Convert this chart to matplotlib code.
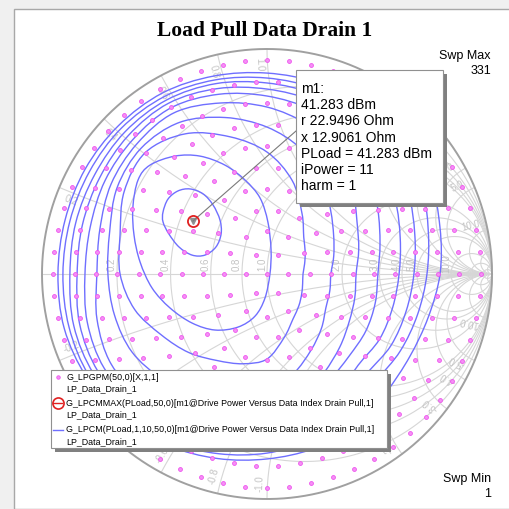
import numpy as np
import matplotlib.pyplot as plt
from matplotlib.patches import Rectangle, PathPatch
from matplotlib.path import Path

plt.rcParams['font.family'] = ['Liberation Sans', 'DejaVu Sans']

# figure / chart geometry in pixels
W, H = 510, 509
CX, CY, RAD = 267, 274, 225

title = 'Load Pull Data Drain 1'

# smith chart grid values
grid_vals = [0.2, 0.4, 0.6, 0.8, 1.0, 2.0, 3.0, 4.0, 5.0, 10.0, 20.0, 50.0]
label_vals = [0.2, 0.4, 0.6, 0.8, 1.0, 2.0, 3.0, 4.0, 5.0, 10.0]

# load pull grid: rings of |Gamma|, 6k points on ring k (331 points)
ring_mag = [0.0, 0.095, 0.19, 0.285, 0.38, 0.475, 0.57, 0.665, 0.76, 0.855, 0.95]
ring_count = [1, 6, 12, 18, 24, 30, 36, 42, 48, 54, 60]

# marker m1
z0 = 50.0
m1_r, m1_x = 22.9496, 12.9061
m1_lines = ['m1:', '41.283 dBm', 'r 22.9496 Ohm', 'x 12.9061 Ohm',
            'PLoad = 41.283 dBm', 'iPower = 11', 'harm = 1']

# PLoad contours (1 dB step), Gamma plane
c1_re = [-0.462, -0.44, -0.396, -0.342, -0.284, -0.24, -0.209, -0.204, -0.227,
         -0.276, -0.333, -0.391, -0.436, -0.462]
c1_im = [0.276, 0.333, 0.369, 0.378, 0.356, 0.307, 0.24, 0.178, 0.12,
         0.084, 0.084, 0.12, 0.178, 0.231]
c2_re = [-0.596, -0.573, -0.52, -0.409, -0.298, -0.187, -0.098, -0.031, 0.004, 0.018,
         0.013, -0.009, -0.053, -0.129, -0.231, -0.333, -0.431, -0.511, -0.564, -0.591]
c2_im = [0.298, 0.418, 0.484, 0.524, 0.524, 0.484, 0.418, 0.338, 0.231, 0.107,
         0.0, -0.107, -0.187, -0.236, -0.249, -0.218, -0.151, -0.062, 0.053, 0.173]

# outer contours as |Gamma| every 15 deg of angle (0 .. 345)
c_ang = list(range(0, 360, 15))
c3_mag = [.160, .173, .196, .231, .311, .431, .542, .631, .720, .764, .733, .676,
          .653, .609, .542, .493, .444, .413, .378, .293, .231, .200, .178, .164]
c4_mag = [.284, .307, .342, .400, .493, .578, .653, .720, .778, .791, .769, .724,
          .707, .702, .693, .658, .613, .578, .533, .458, .391, .342, .302, .289]
c5_mag = [.396, .422, .462, .538, .631, .689, .742, .787, .827, .818, .800, .769,
          .756, .782, .800, .782, .747, .711, .667, .582, .507, .458, .422, .404]
c6_mag = [.493, .520, .569, .644, .711, .756, .791, .827, .853, .844, .831, .813,
          .809, .827, .836, .818, .782, .747, .711, .622, .551, .516, .507, .498]
c7_mag = [.587, .613, .658, .711, .764, .796, .822, .853, .876, .871, .858, .849,
          .844, .862, .867, .849, .813, .778, .742, .676, .622, .573, .578, .578]
c8_mag = [.653, .680, .724, .764, .804, .827, .849, .876, .893, .893, .884, .880,
          .876, .889, .889, .871, .840, .804, .769, .720, .676, .627, .636, .640]
c9_mag = [.711, .742, .791, .809, .840, .853, .871, .893, .911, .916, .911, .907,
          .907, .911, .911, .893, .862, .827, .796, .764, .733, .680, .684, .693]
c10_mag = [.769, .796, .836, .849, .871, .880, .893, .911, .929, .933, .933, .929,
           .929, .933, .924, .911, .880, .849, .822, .804, .791, .747, .733, .742]
outer_mags = [c3_mag, c4_mag, c5_mag, c6_mag, c7_mag, c8_mag, c9_mag, c10_mag]

legend_rows = [('G_LPGPM(50,0)[X,1,1]', 'LP_Data_Drain_1'),
               ('G_LPCMMAX(PLoad,50,0)[m1@Drive Power Versus Data Index Drain Pull,1]', 'LP_Data_Drain_1'),
               ('G_LPCM(PLoad,1,10,50,0)[m1@Drive Power Versus Data Index Drain Pull,1]', 'LP_Data_Drain_1')]

grid_c = '#d6d6d6'
lab_c = '#c4c4c4'
dot_c = '#ee55ee'
cont_c = '#6f6fff'


def fx(x):
    return x / W


def fy(y):
    return 1 - y / H


def closed_curve(xs, ys):
    # smooth closed path through the traced points (bezier segments)
    p = np.column_stack([xs, ys])
    n = len(p)
    verts = [p[0]]
    codes = [Path.MOVETO]
    for i in range(n):
        p0, p1, p2, p3 = p[i - 1], p[i], p[(i + 1) % n], p[(i + 2) % n]
        verts += [p1 + (p2 - p0) / 6, p2 - (p3 - p1) / 6, p2]
        codes += [Path.CURVE4] * 3
    return Path(verts, codes)


fig = plt.figure(figsize=(W / 100, H / 100), dpi=100)
fig.patch.set_facecolor('#f0f0f0')
fig.add_artist(Rectangle((fx(14), 0), 1, fy(9), transform=fig.transFigure,
                         facecolor='white', edgecolor='#a8a8a8', lw=1, zorder=0))

ax = fig.add_axes([0, 0, 1, 1])
ax.set_xlim(-CX / RAD, (W - CX) / RAD)
ax.set_ylim(-(H - CY) / RAD, CY / RAD)
ax.axis('off')
ax.patch.set_alpha(0)

# grid
t = np.concatenate([-np.logspace(4, -4, 600), np.logspace(-4, 4, 600)])
rr = np.logspace(-4, 4, 800)
for v in grid_vals:
    g = (v + 1j * t - 1) / (v + 1j * t + 1)
    ax.plot(g.real, g.imag, color=grid_c, lw=0.8, zorder=1)
    for s in (1, -1):
        g = (rr + 1j * s * v - 1) / (rr + 1j * s * v + 1)
        ax.plot(g.real, g.imag, color=grid_c, lw=0.8, zorder=1)
ax.plot([-1, 1], [0, 0], color=grid_c, lw=0.8, zorder=1)
th = np.linspace(0, 2 * np.pi, 400)
ax.plot(np.cos(th), np.sin(th), color='#a0a0a0', lw=1.4, zorder=2)

# grid labels
for v in label_vals:
    gr = (v - 1) / (v + 1)
    ax.text(gr - 5 / RAD, 10 / RAD, f'{v:.1f}', rotation=90, ha='center', va='center',
            fontsize=7, color=lab_c, zorder=1)
    for s in (1, -1):
        g = (1j * s * v - 1) / (1j * s * v + 1)
        ang = np.angle(g) + s * 0.035
        p = 0.93 * np.exp(1j * ang)
        rot = np.degrees(ang)
        if s > 0 and rot > 90:
            rot -= 180
        if s < 0:
            rot += 180
        ax.text(p.real, p.imag, f'{s * v:.1f}', rotation=rot, ha='center', va='center',
                fontsize=7, color=lab_c, zorder=1, rotation_mode='anchor')

# contours
curves = [(c1_re, c1_im), (c2_re, c2_im)]
a = np.radians(c_ang)
for m in outer_mags:
    m = np.array(m)
    curves.append((m * np.cos(a), m * np.sin(a)))
for cre, cim in curves:
    ax.add_patch(PathPatch(closed_curve(cre, cim), facecolor='none',
                           edgecolor=cont_c, lw=1.0, zorder=3))

# grid points
pts = []
for m, n in zip(ring_mag, ring_count):
    a = np.arange(n) * 2 * np.pi / n
    pts.append(m * np.exp(1j * a))
pts = np.concatenate(pts)
ax.plot(pts.real, pts.imag, 'o', ms=2.8, mfc='#f58ff5', mec=dot_c, mew=0.6, zorder=4)

# marker
zl = (m1_r + 1j * m1_x) / z0
gm = (zl - 1) / (zl + 1)
ax.plot(gm.real, gm.imag, 'v', ms=4, color='#909090', zorder=5)
ax.plot(gm.real, gm.imag, 'o', ms=8, mfc='none', mec='#e02020', mew=1.3, zorder=6)
box = (296, 70, 443, 203)
ax.plot([gm.real, (box[0] - CX) / RAD], [gm.imag, (CY - 131) / RAD],
        color='#7a7a7a', lw=0.8, zorder=5)

fig.add_artist(Rectangle((fx(box[0] + 4), fy(box[3] + 4)), fx(box[2] - box[0]),
                         (box[3] - box[1]) / H, transform=fig.transFigure,
                         facecolor='#808080', edgecolor='none', zorder=7))
fig.add_artist(Rectangle((fx(box[0]), fy(box[3])), fx(box[2] - box[0]),
                         (box[3] - box[1]) / H, transform=fig.transFigure,
                         facecolor='white', edgecolor='#909090', lw=0.8, zorder=8))
for i, s in enumerate(m1_lines):
    fig.text(fx(301), fy(89 + i * 16.2), s, fontsize=10, va='center', ha='left', zorder=9)

# legend
lb = (51, 370, 387, 448)
fig.add_artist(Rectangle((fx(lb[0] + 4), fy(lb[3] + 4)), fx(lb[2] - lb[0]),
                         (lb[3] - lb[1]) / H, transform=fig.transFigure,
                         facecolor='#808080', edgecolor='none', zorder=7))
fig.add_artist(Rectangle((fx(lb[0]), fy(lb[3])), fx(lb[2] - lb[0]),
                         (lb[3] - lb[1]) / H, transform=fig.transFigure,
                         facecolor='white', edgecolor='#909090', lw=0.8, zorder=8))
row_y = [377, 403, 430]
for (s1, s2), y in zip(legend_rows, row_y):
    fig.text(fx(66.5), fy(y), s1, fontsize=6.4, va='center', ha='left', zorder=9)
    fig.text(fx(66.5), fy(y + 11.5), s2, fontsize=6.4, va='center', ha='left', zorder=9)
fig.add_artist(plt.Line2D([fx(58)], [fy(377)], marker='o', ms=2.5, mfc='#f58ff5', mec=dot_c,
                          mew=0.6, transform=fig.transFigure, zorder=9))
fig.add_artist(plt.Line2D([fx(58)], [fy(403)], marker='o', ms=8, mfc='none', mec='#e02020',
                          mew=1.2, transform=fig.transFigure, zorder=9))
fig.add_artist(plt.Line2D([fx(53.5), fx(62.5)], [fy(403), fy(403)], color='#e02020', lw=1.0,
                          transform=fig.transFigure, zorder=9))
fig.add_artist(plt.Line2D([fx(53), fx(63)], [fy(430), fy(430)], color=cont_c, lw=1.0,
                          transform=fig.transFigure, zorder=9))

# titles and sweep labels
fig.text(fx(264.5), fy(31), title, fontsize=15.5, fontweight='bold',
         family=['Liberation Serif', 'DejaVu Serif'], ha='center', va='center')
fig.text(fx(491), fy(56.5), 'Swp Max', fontsize=9, ha='right', va='center')
fig.text(fx(491), fy(71.5), '331', fontsize=9, ha='right', va='center')
fig.text(fx(491), fy(479), 'Swp Min', fontsize=9, ha='right', va='center')
fig.text(fx(491), fy(494), '1', fontsize=9, ha='right', va='center')

fig.savefig('out.png', dpi=100, facecolor=fig.get_facecolor())
